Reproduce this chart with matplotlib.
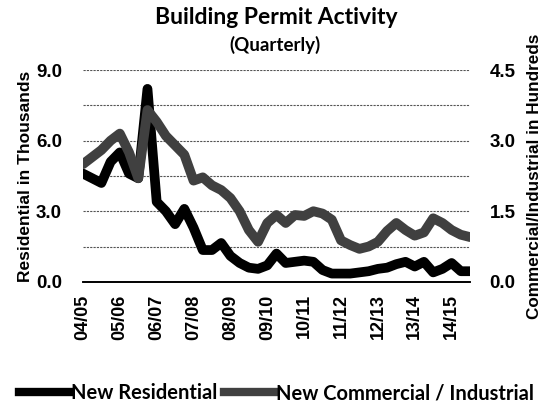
import matplotlib.pyplot as plt
from matplotlib.ticker import MultipleLocator
from matplotlib.lines import Line2D
import numpy as np

plt.rcParams["font.family"] = ["Liberation Sans", "DejaVu Sans"]

# fiscal years, one label every 4 quarters
years = ["04/05", "05/06", "06/07", "07/08", "08/09", "09/10",
         "10/11", "11/12", "12/13", "13/14", "14/15"]

# new residential permits, thousands (quarterly)
residential = [4.6, 4.4, 4.2, 5.1, 5.5, 4.6, 4.4, 8.2, 3.4, 3.0,
               2.45, 3.1, 2.3, 1.35, 1.35, 1.65, 1.1, 0.8, 0.6, 0.55,
               0.7, 1.2, 0.8, 0.85, 0.9, 0.85, 0.5, 0.35, 0.35, 0.35,
               0.4, 0.45, 0.55, 0.6, 0.75, 0.85, 0.65, 0.85, 0.4, 0.55,
               0.8, 0.45, 0.45]

# new commercial / industrial permits, hundreds (quarterly)
commercial = [2.5, 2.65, 2.8, 3.0, 3.15, 2.75, 2.2, 3.65, 3.4, 3.1,
              2.9, 2.7, 2.15, 2.22, 2.05, 1.95, 1.78, 1.5, 1.1, 0.85,
              1.25, 1.42, 1.25, 1.42, 1.4, 1.5, 1.45, 1.32, 0.88, 0.78,
              0.7, 0.75, 0.85, 1.08, 1.25, 1.1, 0.98, 1.05, 1.35, 1.25,
              1.1, 1.0, 0.95]

gray = "#404040"
x = np.arange(len(residential))

fig = plt.figure(figsize=(5.53, 4.12), dpi=100)
ax = fig.add_axes([0.150, 0.316, 0.700, 0.514])
ax2 = ax.twinx()

ax.plot(x, residential, color="black", lw=7, solid_joinstyle="round",
        solid_capstyle="round", zorder=3)
ax2.plot(x, commercial, color=gray, lw=7, solid_joinstyle="round",
         solid_capstyle="round", zorder=3)

ax.set_xlim(0, len(x) - 1)
ax.set_ylim(0, 9)
ax2.set_ylim(0, 4.5)
ax.set_yticks([0, 3, 6, 9])
ax.set_yticklabels(["%.1f" % v for v in [0, 3, 6, 9]])
ax2.set_yticks([0, 1.5, 3, 4.5])
ax2.set_yticklabels(["%.1f" % v for v in [0, 1.5, 3, 4.5]])
ax.yaxis.set_minor_locator(MultipleLocator(1.5))
ax.grid(which="both", axis="y", color="#555555", lw=0.8, ls=(0, (2, 1)))
ax.set_axisbelow(True)

ax.set_xticks(np.arange(0, 4 * len(years), 4))
ax.set_xticklabels(years, rotation=90)

for a in (ax, ax2):
    for s in ["top", "left", "right"]:
        a.spines[s].set_visible(False)
    a.spines["bottom"].set_color("black")
    a.spines["bottom"].set_linewidth(1.2)
    a.tick_params(which="both", length=0, labelsize=13.5)
ax.tick_params(axis="y", pad=15)
ax2.tick_params(axis="y", pad=14)
ax.tick_params(axis="x", pad=9, labelsize=13)
plt.setp(ax.get_xticklabels() + ax.get_yticklabels() + ax2.get_yticklabels(),
         fontweight="bold")

ax.set_ylabel("Residential in Thousands", fontsize=12.5, fontweight="bold",
              labelpad=2)
ax2.set_ylabel("Commercial/Industrial in Hundreds", fontsize=12.3,
               fontweight="bold", labelpad=8)

fig.text(0.50, 0.958, "Building Permit Activity", ha="center", va="center",
         fontsize=16.5, fontweight="bold", family="Lato")
fig.text(0.497, 0.890, "(Quarterly)", ha="center", va="center",
         fontsize=13.5, fontweight="bold", family="Lato")

handles = [Line2D([], [], color="black", lw=6),
           Line2D([], [], color=gray, lw=6)]
fig.legend(handles, ["New Residential", "New Commercial / Industrial"],
           loc="center", bbox_to_anchor=(0.5, 0.045), ncol=2, frameon=False,
           handlelength=2.5, handletextpad=0.1, columnspacing=0.3,
           prop={"family": "Lato", "weight": "bold", "size": 14.5})

fig.savefig("out.png", dpi=100)
